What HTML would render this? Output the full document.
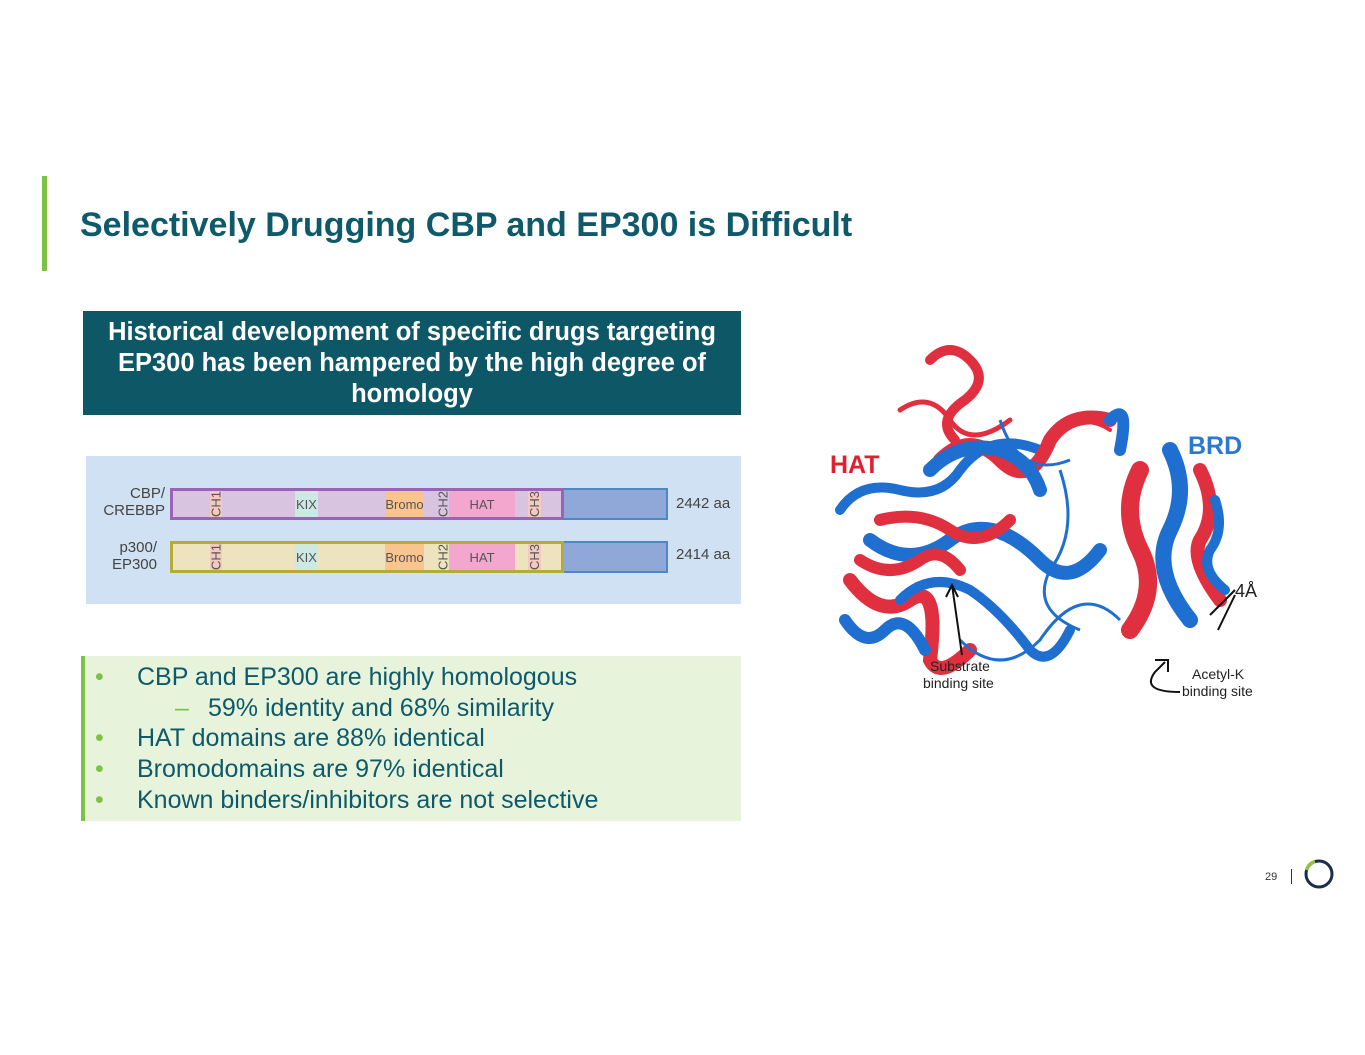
<!DOCTYPE html>
<html><head><meta charset="utf-8"><style>
body{margin:0;width:1365px;height:1055px;background:#fff;position:relative;font-family:"Liberation Sans",Arial,sans-serif;overflow:hidden}
.a{position:absolute}
.dom{position:absolute;top:0;height:100%;font-size:13px;display:flex;align-items:center;justify-content:center;color:#555}
.v{writing-mode:vertical-rl;transform:rotate(180deg)}
.b div{height:30.7px}
</style></head><body>
<div class="a" style="left:42px;top:176px;width:5px;height:95px;background:#7dc242"></div>
<div class="a" style="left:80px;top:206px;font-size:34px;font-weight:bold;color:#0e5a6b;white-space:nowrap">Selectively Drugging CBP and EP300 is Difficult</div>
<div class="a" style="left:83px;top:311px;width:658px;height:104px;background:#0d5766;color:#fff;font-weight:bold;font-size:25.5px;text-align:center;line-height:31px;padding-top:6px;box-sizing:border-box;white-space:nowrap">Historical development of specific drugs targeting<br>EP300 has been hampered by the high degree of<br>homology</div>
<div class="a" style="left:86px;top:456px;width:655px;height:148px;background:#cfe1f3"></div>
<div class="a" style="left:95px;top:485px;width:70px;text-align:right;font-size:15px;color:#444;line-height:17px">CBP/<br>CREBBP</div>
<div class="a" style="left:95px;top:539px;width:62px;text-align:right;font-size:15px;color:#444;line-height:17px">p300/<br>EP300</div>
<div class="a" style="left:676px;top:495px;font-size:15px;color:#444">2442 aa</div>
<div class="a" style="left:676px;top:546px;font-size:15px;color:#444">2414 aa</div>
<div class="a" style="left:170px;top:488px;width:498px;height:32px;background:#8fa8d8;border:2px solid #4f86c4;box-sizing:border-box"></div>
<div class="a" style="left:170px;top:488px;width:394px;height:32px;background:#d8c3e0;border:3px solid #9a63b5;box-sizing:border-box">
<div class="dom v" style="left:37px;width:12px;background:#f3c9c0">CH1</div>
<div class="dom" style="left:122px;width:23px;background:#cde9e3">KIX</div>
<div class="dom" style="left:212px;width:39px;background:#f9c48e">Bromo</div>
<div class="dom v" style="left:264px;width:12px">CH2</div>
<div class="dom" style="left:276px;width:66px;background:#f3a7cf">HAT</div>
<div class="dom v" style="left:355px;width:13px;background:#f3c9c0">CH3</div>
</div>
<div class="a" style="left:170px;top:541px;width:498px;height:32px;background:#8fa8d8;border:2px solid #4f86c4;box-sizing:border-box"></div>
<div class="a" style="left:170px;top:541px;width:394px;height:32px;background:#ede3bf;border:3px solid #b3ac3c;box-sizing:border-box">
<div class="dom v" style="left:37px;width:12px;background:#f3c9c0">CH1</div>
<div class="dom" style="left:122px;width:23px;background:#cde9e3">KIX</div>
<div class="dom" style="left:212px;width:39px;background:#f9c48e">Bromo</div>
<div class="dom v" style="left:264px;width:12px">CH2</div>
<div class="dom" style="left:276px;width:66px;background:#f3a7cf">HAT</div>
<div class="dom v" style="left:355px;width:13px;background:#f3c9c0">CH3</div>
</div>
<div class="a b" style="left:81px;top:656px;width:660px;height:165px;background:#e7f3da;border-left:4px solid #7dc242;box-sizing:border-box;font-size:25px;color:#0e5a6b;line-height:30.7px;padding-top:6px;white-space:nowrap">
<div><span style="color:#7dc242;display:inline-block;width:52px;padding-left:10px;box-sizing:border-box">•</span>CBP and EP300 are highly homologous</div>
<div style="padding-left:90px"><span style="color:#7dc242;display:inline-block;width:33px">–</span>59% identity and 68% similarity</div>
<div><span style="color:#7dc242;display:inline-block;width:52px;padding-left:10px;box-sizing:border-box">•</span>HAT domains are 88% identical</div>
<div><span style="color:#7dc242;display:inline-block;width:52px;padding-left:10px;box-sizing:border-box">•</span>Bromodomains are 97% identical</div>
<div><span style="color:#7dc242;display:inline-block;width:52px;padding-left:10px;box-sizing:border-box">•</span>Known binders/inhibitors are not selective</div>
</div>
<svg class="a" style="left:820px;top:340px" width="460" height="370" viewBox="820 340 460 370">
<g fill="none" stroke-width="10" stroke-linecap="round">
<path d="M930 360 q20 -20 40 0 q20 20 -5 40 q-30 20 -10 40" stroke="#e03040"/>
<path d="M900 410 q30 -20 50 10 q20 30 60 0" stroke="#e03040" stroke-width="5"/>
<path d="M840 510 q20 -30 60 -20 q40 10 60 -20 q30 -40 80 -20" stroke="#1f6fd0"/>
<path d="M850 580 q30 40 60 20 q30 -20 20 60 q10 20 40 -10" stroke="#e03040" stroke-width="14"/>
<path d="M845 620 q20 30 40 10 q20 -20 40 20" stroke="#1f6fd0" stroke-width="12"/>
<path d="M870 540 q40 30 80 0 q40 -30 90 20 q30 30 60 -10" stroke="#1f6fd0" stroke-width="14"/>
<path d="M880 520 q40 -10 70 10 q30 20 60 -10" stroke="#e03040" stroke-width="12"/>
<path d="M940 460 q30 -30 60 0 q30 30 50 -20 q20 -30 60 -20" stroke="#e03040" stroke-width="14"/>
<path d="M930 470 q30 -30 70 -20 q30 10 40 40" stroke="#1f6fd0" stroke-width="14"/>
<path d="M900 600 q30 -30 70 -10 q30 20 60 60 q20 20 40 -20" stroke="#1f6fd0"/>
<path d="M860 560 q30 20 60 0 q20 -15 40 10" stroke="#e03040" stroke-width="12"/>
<path d="M1140 470 q-20 40 0 80 q20 40 -10 80" stroke="#e03040" stroke-width="18"/>
<path d="M1170 450 q20 40 0 80 q-20 40 20 90" stroke="#1f6fd0" stroke-width="16"/>
<path d="M1200 470 q20 40 0 70 q-10 20 20 60" stroke="#e03040" stroke-width="14"/>
<path d="M1215 500 q10 30 -5 50 q-10 20 15 40" stroke="#1f6fd0" stroke-width="10"/>
<path d="M1110 420 q20 -20 10 30" stroke="#1f6fd0" stroke-width="12"/>
<path d="M1050 440 q30 -30 60 -10" stroke="#e03040" stroke-width="4"/>
</g>
<g stroke="#1f6fd0" fill="none" stroke-width="3"><path d="M960 640 q40 40 80 0 q40 -60 80 -20"/><path d="M1000 420 q20 60 70 40"/><path d="M1060 470 q20 60 -10 100 q-20 40 30 60"/></g>
<text x="830" y="473" font-family="Liberation Sans" font-weight="bold" font-size="25" fill="#e02030">HAT</text>
<text x="1188" y="454" font-family="Liberation Sans" font-weight="bold" font-size="25" fill="#2a78d0">BRD</text>
<text x="1235" y="597" font-family="Liberation Sans" font-size="18" fill="#222">4Å</text>
<text x="930" y="671" font-family="Liberation Sans" font-size="14" fill="#222">Substrate</text>
<text x="923" y="688" font-family="Liberation Sans" font-size="14" fill="#222">binding site</text>
<text x="1192" y="679" font-family="Liberation Sans" font-size="14" fill="#222">Acetyl-K</text>
<text x="1182" y="696" font-family="Liberation Sans" font-size="14" fill="#222">binding site</text>
<g stroke="#111" stroke-width="2" fill="none"><path d="M962 655 L952 585 M946 597 L952 585 L958 597"/><path d="M1180 692 q-40 0 -25 -20 l10 -10 M1155 660 L1168 660 L1168 672"/><path d="M1210 615 L1235 590 M1218 630 L1235 595"/></g>
</svg>
<div class="a" style="left:1265px;top:871px;font-size:11px;color:#333">29</div>
<div class="a" style="left:1291px;top:869px;width:1px;height:15px;background:#333"></div>
<svg class="a" style="left:1302px;top:857px" width="34" height="34"><circle cx="17" cy="17" r="13" fill="none" stroke="#1b2d4f" stroke-width="3"/><path d="M4.5 13 A13 13 0 0 1 13 4.6" fill="none" stroke="#8cc63f" stroke-width="3.5"/></svg>
</body></html>
